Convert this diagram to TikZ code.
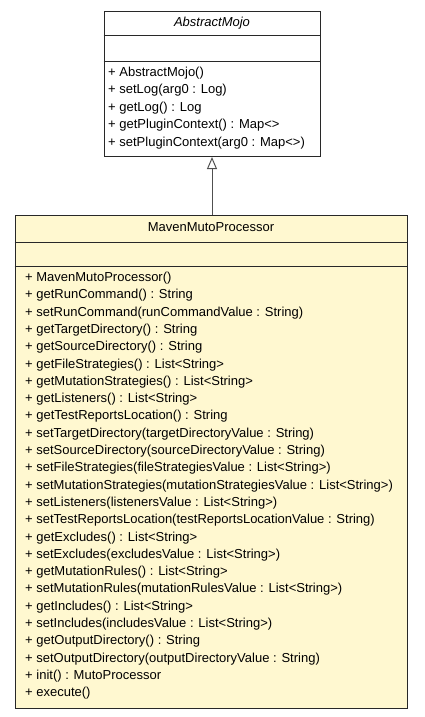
\documentclass[tikz,border=0pt]{standalone}
\usepackage{fontspec}
\setmainfont{Liberation Sans}
\usetikzlibrary{positioning,arrows.meta,calc}

\definecolor{umlfill}{RGB}{255,248,208}
\definecolor{umlline}{RGB}{40,40,40}
\definecolor{umlarrow}{RGB}{80,80,80}

\tikzset{
  classbox/.style={draw=umlline, line width=1pt, inner sep=0pt, anchor=north},
  title/.style={font=\fontsize{13}{15}\selectfont, inner sep=0pt, text height=9.5pt, text depth=3pt},
  member/.style={font=\fontsize{13}{15}\selectfont, inner sep=0pt, anchor=west, text height=9.5pt, text depth=3pt},
  extends/.style={draw=umlarrow, line width=1pt, -{Triangle[open,length=12pt,width=10pt]}}
}

\begin{document}
\begin{tikzpicture}[x=1pt,y=-1pt]
  \useasboundingbox (0,0) rectangle (424,717);
  \def\dy{17.3} % distance between two member lines
  % AbstractMojo
  \node[classbox, fill=white, minimum width=216pt, minimum height=145pt] (mojo) at (212,11) {};
  \node[title] (mojotitle) at (212,23.5) {\itshape AbstractMojo};
  \draw[umlline, line width=1pt] (mojo.west |- 0,36) -- (mojo.east |- 0,36);
  \draw[umlline, line width=1pt] (mojo.west |- 0,62) -- (mojo.east |- 0,62);
  \foreach \m [count=\i from 0] in {%
    + AbstractMojo(),
    + setLog(arg0 : Log),
    + getLog() : Log,
    + getPluginContext() : Map<>,
    + setPluginContext(arg0 : Map<>)} {
    \node[member] (mojo-m\i) at (108,73+\i*17.5) {\m};
  }
  % MavenMutoProcessor
  \node[classbox, fill=umlfill, minimum width=392pt, minimum height=493pt] (proc) at (211,215) {};
  \node[title] (proctitle) at (211,228.5) {MavenMutoProcessor};
  \draw[umlline, line width=1pt] (proc.west |- 0,242) -- (proc.east |- 0,242);
  \draw[umlline, line width=1pt] (proc.west |- 0,266) -- (proc.east |- 0,266);
  \foreach \m [count=\i from 0] in {%
    + MavenMutoProcessor(),
    + getRunCommand() : String,
    + setRunCommand(runCommandValue : String),
    + getTargetDirectory() : String,
    + getSourceDirectory() : String,
    + getFileStrategies() : List<String>,
    + getMutationStrategies() : List<String>,
    + getListeners() : List<String>,
    + getTestReportsLocation() : String,
    + setTargetDirectory(targetDirectoryValue : String),
    + setSourceDirectory(sourceDirectoryValue : String),
    + setFileStrategies(fileStrategiesValue : List<String>),
    + setMutationStrategies(mutationStrategiesValue : List<String>),
    + setListeners(listenersValue : List<String>),
    + setTestReportsLocation(testReportsLocationValue : String),
    + getExcludes() : List<String>,
    + setExcludes(excludesValue : List<String>),
    + getMutationRules() : List<String>,
    + setMutationRules(mutationRulesValue : List<String>),
    + getIncludes() : List<String>,
    + setIncludes(includesValue : List<String>),
    + getOutputDirectory() : String,
    + setOutputDirectory(outputDirectoryValue : String),
    + init() : MutoProcessor,
    + execute()} {
    \node[member] (proc-m\i) at (25,278.3+\i*\dy) {\m};
  }
  % generalization
  \draw[extends] (mojo.south |- proc.north) -- (mojo.south);
\end{tikzpicture}
\end{document}
